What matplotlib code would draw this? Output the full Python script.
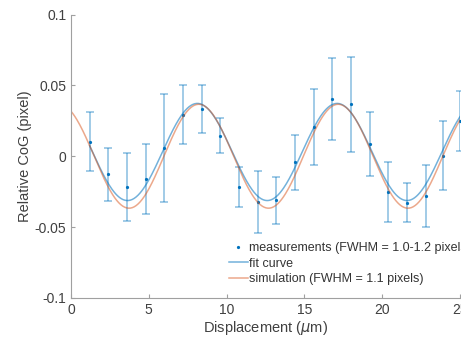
import matplotlib.pyplot as plt
import numpy as np

plt.rcParams['font.family'] = ['Liberation Sans', 'DejaVu Sans']

disp = [1.2, 2.4, 3.6, 4.8, 6.0, 7.2, 8.4, 9.6, 10.8, 12.0, 13.2,
        14.4, 15.6, 16.8, 18.0, 19.2, 20.4, 21.6, 22.8, 23.9, 25.0]
cog = [0.0104, -0.0127, -0.0214, -0.0161, 0.0059, 0.0293, 0.0332, 0.0146,
       -0.0219, -0.0323, -0.0311, -0.0042, 0.0204, 0.0405, 0.0366, 0.0085,
       -0.0252, -0.0327, -0.0283, 0.0004, 0.0248]
err = [0.0207, 0.0188, 0.0240, 0.0247, 0.0380, 0.0207, 0.0168, 0.0125,
       0.0141, 0.0217, 0.0166, 0.0193, 0.0268, 0.0290, 0.0335, 0.0228,
       0.0210, 0.0138, 0.0218, 0.0243, 0.0210]

# sine parameters: amplitude, period, position of first minimum, offset
fit_par = (0.0343, 8.98, 3.63, 0.003)
sim_par = (0.0367, 8.96, 3.73, 0.0)

def sine(x, p):
    a, per, xmin, off = p
    return off - a * np.cos(2 * np.pi * (x - xmin) / per)

blue = '#0072BD'
orange = '#D95319'

fig = plt.figure(figsize=(4.61, 3.40), dpi=100)
ax = fig.add_axes([0.154, 0.124, 0.844, 0.833])

xf = np.linspace(disp[0], disp[-1], 400)
xs = np.linspace(0, 25, 400)

ax.errorbar(disp, cog, yerr=err, fmt='none', ecolor=blue, alpha=0.4,
            elinewidth=1.3, capsize=2.6, capthick=1.3)
ax.plot(disp, cog, '.', color=blue, markersize=2.6,
        label='measurements (FWHM = 1.0-1.2 pixels)')
ax.plot(xf, sine(xf, fit_par), color=blue, alpha=0.55, lw=1.1, label='fit curve')
ax.plot(xs, sine(xs, sim_par), color=orange, alpha=0.5, lw=1.1,
        label='simulation (FWHM = 1.1 pixels)')

ax.set_xlim(0, 25)
ax.set_ylim(-0.1, 0.1)
ax.set_xticks([0, 5, 10, 15, 20, 25])
ax.set_yticks([-0.1, -0.05, 0, 0.05, 0.1])
ax.set_yticklabels(['-0.1', '-0.05', '0', '0.05', '0.1'])

for s in ['top', 'right']:
    ax.spines[s].set_visible(False)
for s in ['left', 'bottom']:
    ax.spines[s].set_color('#a0a0a0')
ax.tick_params(direction='in', length=3, color='#a0a0a0', labelcolor='#404040',
               labelsize=10)

ax.set_xlabel(r'Displacement ($\mu$m)', fontsize=10.5, color='#404040', labelpad=2)
ax.set_ylabel('Relative CoG (pixel)', fontsize=10.5, color='#404040', labelpad=2)

ax.legend(loc='upper left', bbox_to_anchor=(0.393, 0.215), frameon=False,
          fontsize=9, handlelength=1.5, handletextpad=0.1, labelspacing=0.3,
          labelcolor='#333333', borderaxespad=0)

plt.savefig('out.png')
